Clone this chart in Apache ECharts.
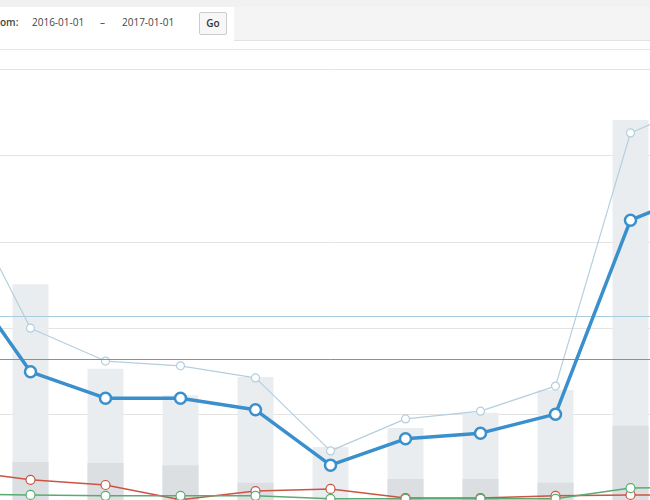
<!DOCTYPE html>
<html><head><meta charset="utf-8">
<script src="https://cdn.jsdelivr.net/npm/echarts@6/dist/echarts.min.js"></script>
<style>
html,body{margin:0;padding:0;width:650px;height:500px;overflow:hidden;background:#fff;font-family:"Open Sans",sans-serif;}
#chart{position:absolute;left:-82px;top:0;width:825px;height:520px;}
#bar{position:absolute;left:0;top:0;width:650px;height:49px;background:#fff;z-index:2;border-bottom:1px solid #e6e6e6;}
#strip{position:absolute;left:0;top:0;width:650px;height:7px;background:#f1f1f1;}
#grey{position:absolute;left:234px;top:7px;width:416px;height:33px;background:#f4f4f4;border-bottom:1px solid #e3e3e3;}
.t{position:absolute;top:15px;font-size:10px;color:#444;}
#go{position:absolute;left:199px;top:12px;width:26px;height:21px;border:1px solid #ccc;border-radius:2px;background:#f7f7f7;font-size:10px;font-weight:600;color:#333;text-align:center;line-height:21px;}
</style></head><body>
<div id="chart"></div>
<div id="bar"><div id="strip"></div><div id="grey"></div>
<span class="t" style="left:0;font-weight:600">om:</span>
<span class="t" style="left:32px">2016-01-01</span>
<span class="t" style="left:100px">–</span>
<span class="t" style="left:122px">2017-01-01</span>
<div id="go">Go</div></div>
<script>
const categories=["P0","P1","P2","P3","P4","P5","P6","P7","P8","P9","P10"];
const barTotal=[70,50.2,30.6,24.5,28.7,12.5,16.9,20.4,25.7,88.2,100];
const barPart=[20,9,8.8,8.3,4.2,0,5.1,5.1,4.2,17.4,25];
const mainLine=[54.6,29.9,23.8,23.8,21.1,8.3,14.4,15.7,20.1,65,72];
const lightLine=[74,40,32.4,31.3,28.5,11.6,19,20.8,26.6,85.2,92.8];
const redLine=[7.2,4.9,3.7,0.3,2.3,2.8,0.7,0.7,1.2,1.4,1.4];
const greenLine=[1.6,1.4,1.2,1.2,1.2,0.5,0.5,0.5,0.5,3,3.2];
const refLines=[42.8,32.9];
const c=echarts.init(document.getElementById('chart'));
const ln=(d,col,w,sz,z)=>({type:'line',data:d,symbol:'circle',symbolSize:sz,z:z,
 lineStyle:{color:col,width:w},itemStyle:{color:'#fff',borderColor:col,borderWidth:w>2?2.5:1.2},animation:false});
c.setOption({animation:false,
 grid:{left:0,right:0,top:69,bottom:19},
 xAxis:{type:'category',data:categories,axisLine:{show:false},axisTick:{show:false},axisLabel:{show:false}},
 yAxis:{type:'value',min:0,max:100,interval:20,axisLabel:{show:false},splitLine:{lineStyle:{color:'#e3e3e3'}}},
 series:[
  {type:'bar',data:barTotal,barWidth:36,itemStyle:{color:'#eaedef'},z:1,
   markLine:{symbol:'none',silent:true,label:{show:false},lineStyle:{color:'#a9cbe0',type:'solid',width:1},data:[{yAxis:refLines[0]}]}},
  {type:'bar',data:barPart,barWidth:36,barGap:'-100%',itemStyle:{color:'#dcdfe2'},z:1,
   markLine:{symbol:'none',silent:true,label:{show:false},lineStyle:{color:'#5c9fc2',type:'solid',width:1},data:[{yAxis:refLines[1]}]}},
  ln(lightLine,'#b3cfe0',1.2,8,3),
  ln(redLine,'#cc5444',1.5,9,4),
  ln(greenLine,'#5aab72',1.5,9,4),
  ln(mainLine,'#3a8fcd',3.5,11,5)
 ]});
</script></body></html>
